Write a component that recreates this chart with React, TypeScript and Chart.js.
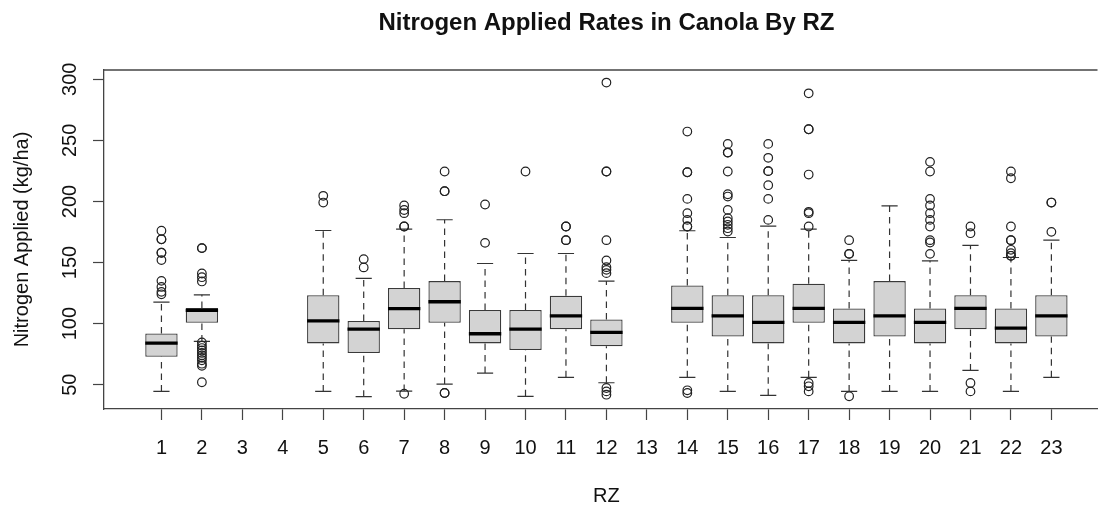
import React, { useEffect, useRef } from "react";
import { Chart, registerables } from "chart.js";

Chart.register(...registerables);

// ---------- text ----------
const TITLE = "Nitrogen Applied Rates in Canola By RZ";
const X_TITLE = "RZ";
const Y_TITLE = "Nitrogen Applied (kg/ha)";

// ---------- data ----------
const categories = [1, 2, 3, 4, 5, 6, 7, 8, 9, 10, 11, 12, 13, 14, 15, 16, 17, 18, 19, 20, 21, 22, 23];
const whiskerLow: (number | null)[] = [44.5, 85.4, null, null, 44.5, 40.2, 44.8, 50.5, 59.5, 40.5, 56, 51.6, null, 56, 44.5, 41.3, 56, 44.5, 44.5, 44.5, 61.7, 44.5, 56];
const quartile1: (number | null)[] = [72.9, 100.7, null, null, 83.8, 75.9, 95.3, 100.7, 83.8, 78.4, 95.3, 81.4, null, 100.7, 89.5, 83.8, 100.7, 83.8, 89.5, 83.8, 95.3, 83.8, 89.5];
const medians: (number | null)[] = [84.1, 110.8, null, null, 102.3, 95.5, 112.2, 117.9, 91.7, 95.5, 106.4, 92.8, null, 112.4, 106.4, 101, 112.4, 101, 106.4, 101, 112.4, 96.3, 106.4];
const quartile3: (number | null)[] = [92.0, 112.7, null, null, 123.3, 102.1, 129.1, 134.8, 111.1, 111.1, 122.8, 103.4, null, 131.2, 123.3, 123.3, 132.6, 112.4, 134.8, 112.4, 123.3, 112.4, 123.3];
const whiskerHigh: (number | null)[] = [117.6, 123.6, null, null, 176.2, 137, 177.3, 185, 149.2, 157.4, 157.4, 134.8, null, 176, 170.5, 179.8, 177.3, 151.7, 196.4, 151.4, 164, 154.1, 168.3];
const outliers: number[][] = [
  [176, 169, 169, 158, 158, 152, 135, 130, 126, 124],
  [161.8, 161.8, 141, 138, 134.5, 84.6, 82, 80, 78, 76, 74, 72, 70, 67.2, 65.5, 52],
  [],
  [],
  [204.6, 199.1],
  [152.8, 146],
  [196.7, 193, 190.4, 179.5, 179.5, 42.6],
  [224.5, 208.4, 208.4, 43.2, 43.2],
  [197.5, 166.1],
  [224.5],
  [179.5, 179.5, 168.3, 168.3],
  [297.3, 224.5, 224.5, 168.3, 151.7, 146.2, 144, 141.3, 47.3, 44.5, 41.8],
  [],
  [257.2, 223.9, 223.9, 202.1, 190.4, 184.9, 179.5, 179.5, 45.4, 43.2],
  [247.1, 240, 240, 224.5, 205.9, 204, 193.1, 186.3, 183.6, 180.9, 178.1, 175.4],
  [247.1, 235.7, 224.8, 224.8, 213.3, 202.1, 184.9],
  [288.5, 259.1, 259.1, 222, 191.5, 190.4, 179.5, 51.4, 48.7, 44.5],
  [168.3, 157.1, 157.1, 40.5],
  [],
  [232.4, 224.5, 202.1, 196.7, 190.4, 184.9, 179.5, 168.3, 166.4, 157.1],
  [179.5, 174, 51.4, 44.5],
  [224.5, 219, 179.5, 168.3, 168.3, 160.4, 157.7, 155.5, 155.5],
  [199.1, 199.1, 175.1],
];
const yTicks = [50, 100, 150, 200, 250, 300];

// ---------- axis ranges ----------
const X_MIN = -0.42;
const X_MAX = 24.14;
const Y_MIN = 30.1;
const Y_MAX = 307.6;

// ---------- styles ----------
const BOX_HALF = 0.4;
const STAPLE_HALF = 0.2;
const FONT = '"Liberation Sans", Arial, Helvetica, sans-serif';
const FRAME = "#444";

const boxExtras = {
  id: "boxExtras",
  beforeDatasetsDraw(chart: any) {
    const { ctx } = chart;
    const x = chart.scales.x;
    const y = chart.scales.y;
    ctx.save();
    ctx.strokeStyle = "#333";
    ctx.lineWidth = 1.2;
    categories.forEach((c, i) => {
      const lo = whiskerLow[i], hi = whiskerHigh[i], a = quartile1[i], b = quartile3[i];
      if (lo == null || hi == null || a == null || b == null) return;
      const px = x.getPixelForValue(c);
      ctx.setLineDash([6.5, 5]);
      ctx.beginPath();
      ctx.moveTo(px, y.getPixelForValue(lo));
      ctx.lineTo(px, y.getPixelForValue(a));
      ctx.stroke();
      ctx.beginPath();
      ctx.moveTo(px, y.getPixelForValue(b));
      ctx.lineTo(px, y.getPixelForValue(hi));
      ctx.stroke();
      ctx.setLineDash([]);
      const sl = x.getPixelForValue(c - STAPLE_HALF);
      const sr = x.getPixelForValue(c + STAPLE_HALF);
      ctx.beginPath();
      ctx.moveTo(sl, y.getPixelForValue(lo));
      ctx.lineTo(sr, y.getPixelForValue(lo));
      ctx.moveTo(sl, y.getPixelForValue(hi));
      ctx.lineTo(sr, y.getPixelForValue(hi));
      ctx.stroke();
    });
    ctx.restore();
  },
  afterDatasetsDraw(chart: any) {
    const { ctx } = chart;
    const x = chart.scales.x;
    const y = chart.scales.y;
    ctx.save();
    ctx.strokeStyle = "#000";
    ctx.lineWidth = 3.3;
    ctx.lineCap = "butt";
    categories.forEach((c, i) => {
      const m = medians[i];
      if (m == null) return;
      const py = y.getPixelForValue(m);
      ctx.beginPath();
      ctx.moveTo(x.getPixelForValue(c - BOX_HALF), py);
      ctx.lineTo(x.getPixelForValue(c + BOX_HALF), py);
      ctx.stroke();
    });
    ctx.restore();
  },
  afterDraw(chart: any) {
    const { ctx, chartArea } = chart;
    const x = chart.scales.x;
    const y = chart.scales.y;
    ctx.save();
    // top frame line
    ctx.strokeStyle = FRAME;
    ctx.lineWidth = 1.3;
    ctx.beginPath();
    ctx.moveTo(chartArea.left, chartArea.top);
    ctx.lineTo(chartArea.right, chartArea.top);
    ctx.stroke();

    const centerX = x.getPixelForValue((categories[0] + categories[categories.length - 1]) / 2);
    const centerY = (chartArea.top + chartArea.bottom) / 2;

    ctx.fillStyle = "#111";
    // title
    ctx.font = `bold 24px ${FONT}`;
    ctx.textAlign = "center";
    ctx.textBaseline = "alphabetic";
    ctx.fillText(TITLE, centerX, 30);

    // x tick labels
    ctx.font = `20px ${FONT}`;
    x.ticks.forEach((t: any) => {
      ctx.fillText(String(t.value), x.getPixelForValue(t.value), 454);
    });
    // x title
    ctx.fillText(X_TITLE, centerX, 502);

    // y tick labels (rotated)
    y.ticks.forEach((t: any) => {
      ctx.save();
      ctx.translate(76, y.getPixelForValue(t.value));
      ctx.rotate(-Math.PI / 2);
      ctx.fillText(String(t.value), 0, 0);
      ctx.restore();
    });
    // y title
    ctx.save();
    ctx.translate(28, centerY);
    ctx.rotate(-Math.PI / 2);
    ctx.fillText(Y_TITLE, 0, 0);
    ctx.restore();

    ctx.restore();
  },
};

export default function App() {
  const canvasRef = useRef<HTMLCanvasElement | null>(null);

  useEffect(() => {
    if (!canvasRef.current) return;
    const boxData: any[] = [];
    const outlierData: any[] = [];
    categories.forEach((c, i) => {
      const a = quartile1[i], b = quartile3[i];
      if (a != null && b != null) boxData.push({ x: c, y: [a, b] });
      outliers[i].forEach((v) => outlierData.push({ x: c, y: v }));
    });

    const chart = new Chart(canvasRef.current, {
      type: "bar",
      data: {
        datasets: [
          {
            type: "scatter",
            data: outlierData,
            pointStyle: "circle",
            pointRadius: 4.3,
            pointBorderWidth: 1.2,
            borderColor: "#222",
            backgroundColor: "rgba(0,0,0,0)",
            pointBackgroundColor: "rgba(0,0,0,0)",
            pointBorderColor: "#222",
          } as any,
          {
            type: "bar",
            data: boxData,
            backgroundColor: "#d3d3d3",
            borderColor: "#3a3a3a",
            borderWidth: 1.3,
            borderSkipped: false,
            barPercentage: 0.8,
            categoryPercentage: 1,
          } as any,
        ],
      },
      options: {
        animation: false,
        responsive: false,
        devicePixelRatio: 1,
        layout: { padding: { left: 93, top: 70, right: 0, bottom: 86 } },
        plugins: {
          legend: { display: false },
          title: { display: false },
          tooltip: { enabled: false },
        },
        events: [],
        scales: {
          x: {
            type: "linear",
            min: X_MIN,
            max: X_MAX,
            offset: false,
            afterBuildTicks: (s: any) => {
              s.ticks = categories.map((v) => ({ value: v }));
            },
            ticks: { display: false },
            grid: {
              display: true,
              offset: false,
              drawOnChartArea: false,
              drawTicks: true,
              tickLength: 11,
              tickWidth: 1.2,
              tickColor: FRAME,
              color: FRAME,
            },
            border: { display: true, color: FRAME, width: 1.3 },
          },
          y: {
            type: "linear",
            min: Y_MIN,
            max: Y_MAX,
            afterBuildTicks: (s: any) => {
              s.ticks = yTicks.map((v) => ({ value: v }));
            },
            ticks: { display: false },
            grid: {
              display: true,
              drawOnChartArea: false,
              drawTicks: true,
              tickLength: 11,
              tickWidth: 1.2,
              tickColor: FRAME,
              color: FRAME,
            },
            border: { display: true, color: FRAME, width: 1.3 },
          },
        },
      } as any,
      plugins: [boxExtras],
    });
    return () => chart.destroy();
  }, []);

  return (
    <div style={{ position: "fixed", left: 0, top: 0, width: 1103, height: 506, background: "#fff" }}>
      <canvas ref={canvasRef} width={1103} height={506} style={{ display: "block" }} />
    </div>
  );
}
